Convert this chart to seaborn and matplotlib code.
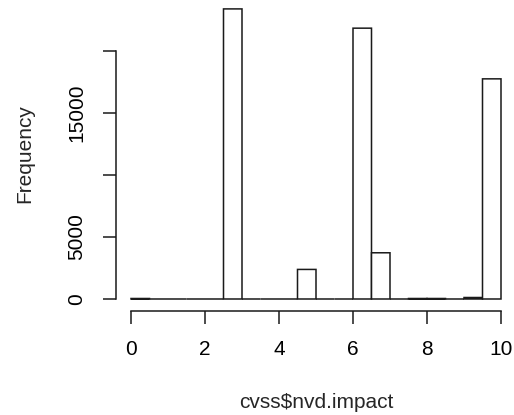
import numpy as np
import pandas as pd
import matplotlib
matplotlib.use("Agg")
import matplotlib.pyplot as plt
import seaborn as sns

# Histogram bins (width 0.5 from 0 to 10) and counts
bin_edges = [0.0, 0.5, 1.0, 1.5, 2.0, 2.5, 3.0, 3.5, 4.0, 4.5, 5.0,
             5.5, 6.0, 6.5, 7.0, 7.5, 8.0, 8.5, 9.0, 9.5, 10.0]
counts = [40, 0, 0, 0, 0, 23350, 0, 0, 0, 2380,
          0, 0, 21800, 3720, 0, 40, 40, 0, 120, 17720]
x_ticks = [0, 2, 4, 6, 8, 10]
y_ticks = [0, 5000, 10000, 15000, 20000]
y_tick_labels = ["0", "5000", "", "15000", ""]
x_label = "cvss$nvd.impact"
y_label = "Frequency"

centers = [(a + b) / 2 for a, b in zip(bin_edges[:-1], bin_edges[1:])]
df = pd.DataFrame({"impact": centers, "count": counts})

sns.set_style("white")
plt.rcParams["font.family"] = ["Liberation Sans", "DejaVu Sans"]

fig = plt.figure(figsize=(5.14, 4.15), dpi=100)
ax = fig.add_axes([116.2 / 514, 104.4 / 415, 399.6 / 514, 313.3 / 415])

sns.histplot(data=df, x="impact", weights="count", bins=bin_edges,
             fill=True, color="white", edgecolor="#1a1a1a", linewidth=1.1,
             alpha=1, ax=ax)
for p in ax.patches:
    p.set_snap(False)

ymax = max(counts) * 1.04
ax.set_xlim(-0.4, 10.4)
ax.set_ylim(-0.04 * max(counts), ymax)

ax.set_xticks(x_ticks)
ax.set_xticklabels([str(t) for t in x_ticks])
ax.set_yticks(y_ticks)
ax.set_yticklabels(y_tick_labels, rotation=90, va="center")

for s in ["top", "right"]:
    ax.spines[s].set_visible(False)
ax.spines["left"].set_bounds(0, 20000)
ax.spines["bottom"].set_bounds(0, 10)
for s in ["left", "bottom"]:
    ax.spines[s].set_linewidth(1.1)
    ax.spines[s].set_color("#1a1a1a")

ax.tick_params(axis="both", direction="out", length=9.5, width=1.1,
               color="#1a1a1a", labelsize=15, labelcolor="black",
               bottom=True, left=True)
ax.tick_params(axis="x", pad=12)
ax.tick_params(axis="y", pad=12)

ax.set_xlabel(x_label, fontsize=15, labelpad=24)
ax.set_ylabel(y_label, fontsize=15, labelpad=24)

fig.savefig("out.png", dpi=100)
